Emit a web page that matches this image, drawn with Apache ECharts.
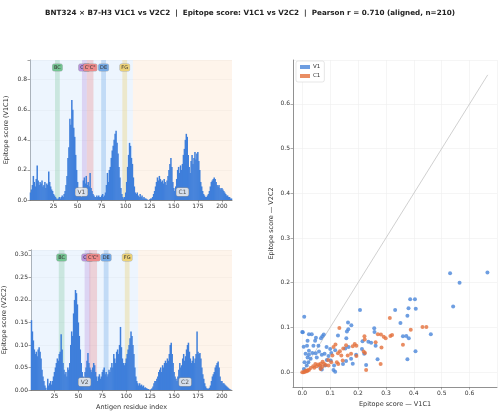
<!DOCTYPE html>
<html>
<head>
<meta charset="utf-8">
<script src="https://cdn.jsdelivr.net/npm/echarts@6/dist/echarts.min.js"></script>
<style>
html, body { margin: 0; padding: 0; background: #fff; }
#chart { width: 500px; height: 413px; }
</style>
</head>
<body>
<div id="chart"></div>
<script>
	// per-residue epitope scores, residues 1..210
	var v1c1 = [
		0.05, 0.07, 0.10, 0.16, 0.12, 0.09, 0.14, 0.23, 0.13, 0.10,
		0.12, 0.11, 0.13, 0.09, 0.10, 0.12, 0.08, 0.11, 0.10, 0.19,
		0.12, 0.09, 0.07, 0.06, 0.04, 0.03, 0.02, 0.01, 0.005, 0.01,
		0.02, 0.01, 0.02, 0.03, 0.02, 0.04, 0.06, 0.10, 0.16, 0.28,
		0.35, 0.54, 0.50, 0.665, 0.60, 0.48, 0.42, 0.30, 0.20, 0.12,
		0.06, 0.04, 0.03, 0.02, 0.05, 0.13, 0.15, 0.11, 0.16, 0.10,
		0.12, 0.09, 0.18, 0.08, 0.06, 0.04, 0.03, 0.02, 0.02, 0.03,
		0.02, 0.03, 0.02, 0.02, 0.03, 0.04, 0.02, 0.03, 0.05, 0.10,
		0.18, 0.12, 0.20, 0.22, 0.28, 0.33, 0.36, 0.40, 0.44, 0.46,
		0.38, 0.31, 0.22, 0.15, 0.08, 0.04, 0.02, 0.01, 0.02, 0.05,
		0.12, 0.22, 0.30, 0.38, 0.36, 0.28, 0.24, 0.15, 0.09, 0.05,
		0.04, 0.05, 0.03, 0.02, 0.04, 0.02, 0.03, 0.01, 0.02, 0.01,
		0.01, 0.005, 0.002, 0.0, 0.005, 0.01, 0.01, 0.02, 0.04, 0.06,
		0.09, 0.12, 0.15, 0.13, 0.16, 0.14, 0.12, 0.13, 0.11, 0.14,
		0.12, 0.10, 0.13, 0.16, 0.20, 0.24, 0.28, 0.22, 0.12, 0.08,
		0.06, 0.09, 0.14, 0.20, 0.22, 0.18, 0.23, 0.20, 0.24, 0.30,
		0.34, 0.40, 0.44, 0.42, 0.30, 0.22, 0.18, 0.26, 0.30, 0.24,
		0.28, 0.32, 0.27, 0.31, 0.32, 0.26, 0.20, 0.12, 0.09, 0.06,
		0.04, 0.03, 0.02, 0.02, 0.03, 0.04, 0.06, 0.09, 0.12, 0.13,
		0.14, 0.15, 0.14, 0.12, 0.10, 0.09, 0.10, 0.08, 0.07, 0.08,
		0.07, 0.06, 0.05, 0.04, 0.03, 0.03, 0.02, 0.02, 0.01, 0.01
	];
	var v2c2 = [
		0.155, 0.13, 0.11, 0.09, 0.08, 0.085, 0.075, 0.09, 0.095, 0.085,
		0.07, 0.045, 0.03, 0.02, 0.01, 0.005, 0.0, 0.025, 0.01, 0.015,
		0.02, 0.012, 0.02, 0.03, 0.04, 0.05, 0.06, 0.07, 0.065, 0.08,
		0.085, 0.124, 0.09, 0.06, 0.045, 0.035, 0.04, 0.03, 0.05, 0.045,
		0.06, 0.10, 0.13, 0.12, 0.17, 0.20, 0.222, 0.215, 0.19, 0.15,
		0.12, 0.09, 0.06, 0.04, 0.03, 0.02, 0.04, 0.05, 0.065, 0.082,
		0.06, 0.05, 0.045, 0.04, 0.05, 0.06, 0.055, 0.04, 0.03, 0.02,
		0.03, 0.035, 0.025, 0.03, 0.04, 0.045, 0.05, 0.035, 0.04, 0.03,
		0.035, 0.045, 0.04, 0.05, 0.06, 0.05, 0.08, 0.07, 0.06, 0.085,
		0.09, 0.08, 0.10, 0.14, 0.095, 0.07, 0.06, 0.055, 0.06, 0.07,
		0.08, 0.09, 0.10, 0.115, 0.13, 0.12, 0.10, 0.08, 0.05, 0.03,
		0.02, 0.015, 0.01, 0.015, 0.01, 0.012, 0.008, 0.01, 0.005, 0.006,
		0.004, 0.003, 0.002, 0.001, 0.0, 0.002, 0.004, 0.008, 0.015, 0.02,
		0.02, 0.025, 0.03, 0.04, 0.045, 0.05, 0.04, 0.055, 0.05, 0.06,
		0.065, 0.06, 0.07, 0.065, 0.08, 0.10, 0.105, 0.08, 0.06, 0.04,
		0.03, 0.025, 0.02, 0.03, 0.045, 0.06, 0.05, 0.055, 0.07, 0.08,
		0.065, 0.075, 0.09, 0.10, 0.105, 0.085, 0.07, 0.06, 0.065, 0.075,
		0.06, 0.07, 0.08, 0.13, 0.085, 0.08, 0.082, 0.07, 0.05, 0.035,
		0.025, 0.015, 0.008, 0.004, 0.003, 0.003, 0.005, 0.01, 0.02, 0.03,
		0.035, 0.04, 0.05, 0.055, 0.06, 0.063, 0.05, 0.03, 0.02, 0.02,
		0.015, 0.015, 0.012, 0.01, 0.008, 0.006, 0.004, 0.002, 0.001, 0.0
	];
	var residueTicks = [25, 50, 75, 100, 125, 150, 175, 200];

	// aligned pairs [V1C1 score, V2C2 score]
	var scatterV1 = [
		[0.530,0.221],[0.664,0.223],[0.564,0.200],[0.541,0.147],[0.387,0.163],[0.404,0.163],
		[0.381,0.143],[0.407,0.142],[0.333,0.139],[0.207,0.139],[0.007,0.124],[0.377,0.126],
		[0.352,0.110],[0.164,0.111],[0.176,0.105],[0.165,0.096],[0.258,0.098],[0.259,0.090],
		[0.461,0.085],[0.373,0.081],[0.361,0.080],[0.382,0.076],[0.000,0.090],[0.002,0.089],
		[0.024,0.085],[0.034,0.085],[0.077,0.084],[0.072,0.080],[0.128,0.082],[0.160,0.091],
		[0.158,0.076],[0.049,0.077],[0.067,0.076],[0.019,0.070],[0.046,0.070],[0.005,0.057],
		[0.017,0.059],[0.040,0.059],[0.058,0.059],[0.087,0.056],[0.100,0.052],[0.118,0.049],
		[0.216,0.069],[0.237,0.068],[0.247,0.066],[0.263,0.059],[0.214,0.052],[0.222,0.041],
		[0.406,0.047],[0.377,0.029],[0.270,0.029],[0.229,0.016],[0.024,0.048],[0.036,0.043],
		[0.024,0.039],[0.019,0.033],[0.030,0.030],[0.022,0.022],[0.016,0.015],[0.048,0.042],
		[0.060,0.046],[0.070,0.039],[0.052,0.033],[0.080,0.041],[0.094,0.036],[0.104,0.043],
		[0.088,0.027],[0.102,0.026],[0.114,0.015],[0.112,0.005],[0.118,0.001],[0.146,0.018],
		[0.157,0.025],[0.175,0.030],[0.181,0.019],[0.193,0.039],[0.166,0.056],[0.154,0.053],
		[0.082,0.015],[0.065,0.009],[0.070,0.006],[0.006,0.007],[0.008,0.022],[0.012,0.041]
	];
	var scatterC1 = [
		[0.314,0.121],[0.133,0.099],[0.431,0.101],[0.445,0.101],[0.389,0.095],[0.316,0.081],
		[0.322,0.083],[0.292,0.079],[0.282,0.084],[0.299,0.076],[0.271,0.085],[0.223,0.080],
		[0.224,0.073],[0.263,0.067],[0.284,0.055],[0.361,0.061],[0.281,0.018],[0.229,0.005],
		[0.225,0.043],[0.220,0.046],[0.188,0.063],[0.194,0.059],[0.181,0.058],[0.157,0.060],
		[0.147,0.053],[0.119,0.062],[0.112,0.056],[0.135,0.047],[0.128,0.042],[0.140,0.037],
		[0.108,0.037],[0.163,0.037],[0.175,0.041],[0.194,0.036],[0.145,0.026],[0.129,0.018],
		[0.124,0.022],[0.104,0.022],[0.093,0.027],[0.073,0.023],[0.066,0.019],[0.057,0.017],
		[0.047,0.018],[0.039,0.013],[0.030,0.009],[0.024,0.005],[0.012,0.003],[0.005,0.000],
		[0.000,0.000],[0.019,0.004],[0.052,0.013],[0.063,0.015],[0.072,0.012],[0.084,0.016],
		[0.094,0.015],[0.043,0.010],[0.078,0.019],[0.066,0.007],[0.010,0.001],[0.017,0.002]
	];

	// domain regions and loops [label, first residue, last residue]
	var regionsTop = [['V1', 1, 107], ['C1', 108, 210]];
	var regionsBottom = [['V2', 1, 112], ['C2', 113, 210]];
	var loopsTop = [['BC', 27, 31], ["CC'", 55, 59], ["C'C\"", 60, 66], ['DE', 75, 79], ['FG', 97, 101]];
	var loopsBottom = [['BC', 30, 35], ["CC'", 57, 62], ["C'C\"", 62, 69], ['DE', 77, 81], ['FG', 99, 103]];
	var loopColors = {
		'BC': ['rgba(110,195,145,0.28)', '#74c492'],
		"CC'": ['rgba(175,130,215,0.28)', '#b893dc'],
		"C'C\"": ['rgba(235,120,120,0.28)', '#ec8a8a'],
		'DE': ['rgba(95,160,230,0.30)', '#74aae6'],
		'FG': ['rgba(235,205,100,0.32)', '#ecd277']
	};
	var regionColors = ['rgba(215,232,252,0.45)', 'rgba(253,234,216,0.5)'];

	var font = 'DejaVu Sans';
	var barBlue = '#3f7fdb';

	// shaded bands, drawn behind the bars
	function buildAreas(regions, loops) {
		var areas = [];
		regions.forEach(function(r, i) {
			areas.push([{ xAxis: r[1] - 0.5, itemStyle: { color: regionColors[i] } }, { xAxis: r[2] + 0.5 }]);
		});
		loops.forEach(function(l) {
			var c = loopColors[l[0]];
			areas.push([{
				name: l[0],
				xAxis: l[1] - 0.5,
				itemStyle: { color: c[0] },
				label: {
					show: true, position: 'insideTop', distance: 4,
					fontFamily: font, fontSize: 5, color: '#333',
					backgroundColor: c[1], borderColor: 'rgba(0,0,0,0.25)', borderWidth: 0.5,
					borderRadius: 1.5, padding: [1, 1.5]
				}
			}, { xAxis: l[2] + 0.5 }]);
		});
		return areas;
	}

	// region name tags, drawn above the bars
	function buildTags(regions) {
		return regions.map(function(r) {
			return [{
				name: r[0],
				xAxis: r[1] - 0.5,
				itemStyle: { color: 'rgba(0,0,0,0)' },
				label: {
					show: true, position: 'insideBottom', distance: 4,
					fontFamily: font, fontSize: 6, color: '#555',
					backgroundColor: 'rgba(238,238,238,0.85)', borderColor: '#999', borderWidth: 0.5,
					borderRadius: 1.5, padding: [1, 2]
				}
			}, { xAxis: r[2] + 0.5 }];
		});
	}

	function decimalsFormatter(step, digits) {
		return function(v) {
			var k = v / step;
			return Math.abs(k - Math.round(k)) < 1e-6 ? v.toFixed(digits) : '';
		};
	}

	function residueAxis(gridIndex, showName) {
		return {
			type: 'value',
			gridIndex: gridIndex,
			min: 0.5,
			max: v1c1.length + 0.5,
			name: showName ? 'Antigen residue index' : '',
			nameLocation: 'middle',
			nameGap: 14,
			nameTextStyle: { fontFamily: font, fontSize: 6.5, color: '#333' },
			axisLine: { lineStyle: { color: '#666', width: 0.8 } },
			axisTick: { show: true, length: 2.5, customValues: residueTicks, lineStyle: { color: '#666', width: 0.6 } },
			axisLabel: { fontFamily: font, fontSize: 6, color: '#333', margin: 3, customValues: residueTicks },
			splitLine: { show: false }
		};
	}

	function scoreAxis(gridIndex, max, step, digits, title, gap) {
		return {
			type: 'value',
			gridIndex: gridIndex,
			min: 0,
			max: max,
			interval: step,
			name: title,
			nameLocation: 'middle',
			nameGap: gap,
			nameTextStyle: { fontFamily: font, fontSize: 6.5, color: '#333' },
			axisLine: { show: true, lineStyle: { color: '#666', width: 0.8 } },
			axisTick: { show: true, length: 2.5, lineStyle: { color: '#666', width: 0.6 } },
			axisLabel: { fontFamily: font, fontSize: 6, color: '#333', margin: 3, formatter: decimalsFormatter(step, digits) },
			splitLine: { lineStyle: { color: '#ececec', width: 0.6 } }
		};
	}

	function scatterAxis(gridIndex, title, gap, lim) {
		return {
			type: 'value',
			gridIndex: gridIndex,
			min: -0.05 * lim,
			max: lim * 1.05,
			splitNumber: 7,
			name: title,
			nameLocation: 'middle',
			nameGap: gap,
			nameTextStyle: { fontFamily: font, fontSize: 6.5, color: '#333' },
			axisLine: { show: true, onZero: false, lineStyle: { color: '#777', width: 0.8 } },
			axisTick: { show: true, length: 2.5, lineStyle: { color: '#777', width: 0.6 } },
			axisLabel: { fontFamily: font, fontSize: 6, color: '#333', margin: 3, showMinLabel: false, showMaxLabel: false, formatter: decimalsFormatter(0.1, 1) },
			splitLine: { lineStyle: { color: '#eeeeee', width: 0.6 } }
		};
	}

	function profileSeries(values, axisIndex, regions, loops) {
		var pts = values.map(function(v, i) { return [i + 1, v]; });
		return [{
			type: 'bar',
			xAxisIndex: axisIndex, yAxisIndex: axisIndex,
			data: pts,
			barWidth: 1.5,
			barMinWidth: 1.5,
			itemStyle: { color: barBlue },
			markArea: { silent: true, data: buildAreas(regions, loops) }
		}, {
			type: 'line',
			xAxisIndex: axisIndex, yAxisIndex: axisIndex,
			data: pts,
			symbol: 'none',
			silent: true,
			lineStyle: { opacity: 0 },
			z: 5,
			markArea: { silent: true, z: 10, data: buildTags(regions) }
		}];
	}

	var lim = Math.max(Math.max.apply(null, v1c1), Math.max.apply(null, v2c2));
	var maxTop = Math.max.apply(null, v1c1) * 1.4;
	var maxBottom = Math.max.apply(null, v2c2) * 1.4;

	var option = {
		animation: false,
		title: {
			text: 'BNT324 \u00d7 B7-H3 V1C1 vs V2C2  |  Epitope score: V1C1 vs V2C2  |  Pearson r = 0.710 (aligned, n=210)',
			left: 'center',
			top: 5,
			textStyle: { fontFamily: font, fontSize: 7.2, fontWeight: 'bold', color: '#222' }
		},
		legend: {
			data: ['V1', 'C1'],
			orient: 'vertical',
			left: 296,
			top: 61,
			itemWidth: 10,
			itemHeight: 4,
			itemGap: 3,
			icon: 'rect',
			padding: [3, 4],
			backgroundColor: '#fff',
			borderColor: '#ccc',
			borderWidth: 0.5,
			borderRadius: 2,
			textStyle: { fontFamily: font, fontSize: 5.5, color: '#333', padding: [0, 0, 0, -2] }
		},
		grid: [
			{ left: 30, top: 60, width: 202, height: 140 },
			{ left: 30, top: 250, width: 202, height: 140 },
			{ left: 293, top: 60, right: 3, bottom: 23 }
		],
		xAxis: [
			residueAxis(0, false),
			residueAxis(1, true),
			scatterAxis(2, 'Epitope score \u2014 V1C1', 14, lim)
		],
		yAxis: [
			scoreAxis(0, maxTop, 0.2, 1, 'Epitope score (V1C1)', 20),
			scoreAxis(1, maxBottom, 0.05, 2, 'Epitope score (V2C2)', 23),
			scatterAxis(2, 'Epitope score \u2014 V2C2', 18, lim)
		],
		series: profileSeries(v1c1, 0, regionsTop, loopsTop)
			.concat(profileSeries(v2c2, 1, regionsBottom, loopsBottom))
			.concat([
				{
					name: 'y = x',
					type: 'line',
					xAxisIndex: 2, yAxisIndex: 2,
					data: [[0, 0], [lim, lim]],
					symbol: 'none',
					lineStyle: { color: '#bbb', width: 0.7 },
					z: 1
				},
				{
					name: 'V1',
					type: 'scatter',
					xAxisIndex: 2, yAxisIndex: 2,
					data: scatterV1,
					symbolSize: 4,
					itemStyle: { color: '#4a86da', opacity: 0.8 }
				},
				{
					name: 'C1',
					type: 'scatter',
					xAxisIndex: 2, yAxisIndex: 2,
					data: scatterC1,
					symbolSize: 4,
					itemStyle: { color: '#e3703c', opacity: 0.8 }
				}
			])
	};

	var chart = echarts.init(document.getElementById('chart'));
	chart.setOption(option);
</script>
</body>
</html>
